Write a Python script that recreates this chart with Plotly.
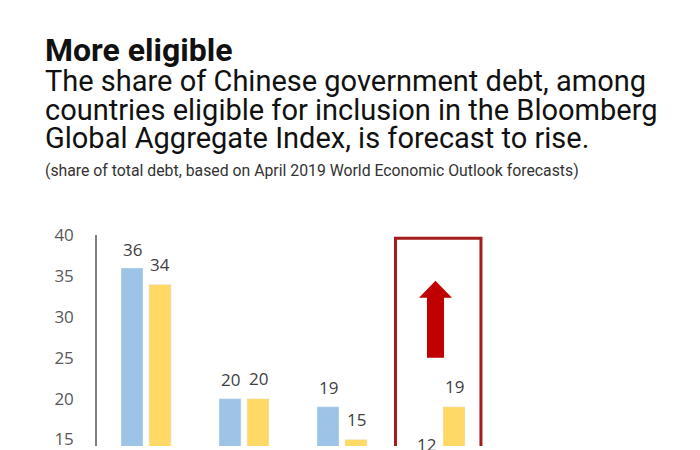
import plotly.graph_objects as go

categories = ["United States", "Japan", "Euro area", "China"]
share_2019 = [36, 20, 19, 12]
share_2024 = [34, 20, 15, 19]
tick_vals = [15, 20, 25, 30, 35, 40]

title = "More eligible"
subtitle_lines = [
    "The share of Chinese government debt, among",
    "countries eligible for inclusion in the Bloomberg",
    "Global Aggregate Index, is forecast to rise.",
]
note = "(share of total debt, based on April 2019 World Economic Outlook forecasts)"

BLUE = "#9DC3E6"
YELLOW = "#FFD966"
BW = 22 / 98
OFF = 8  # page body margin compensation
Y_RANGE = [14.2, 40.05]

fig = go.Figure()
fig.add_trace(go.Bar(x=categories, y=share_2019, marker_color=BLUE,
                     width=BW, offset=-25 / 98, name="2019", hoverinfo="x+y"))
fig.add_trace(go.Bar(x=categories, y=share_2024, marker_color=YELLOW,
                     width=BW, offset=3 / 98, name="2024", hoverinfo="x+y"))


def bar_label(cat, v, xshift, yshift):
    a = dict(x=cat, xref="x", text=str(v), showarrow=False,
             xshift=xshift, yshift=yshift, yanchor="middle",
             font=dict(family="Open Sans", size=17, color="#404040"))
    if v >= Y_RANGE[0]:
        a.update(y=v, yref="y")
    else:  # bar top lies below the visible window: place via the axis fraction
        a.update(y=(v - Y_RANGE[0]) / (Y_RANGE[1] - Y_RANGE[0]), yref="paper")
    return a


ann = []
for cat, v in zip(categories, share_2019):
    ann.append(bar_label(cat, v, -14, 19))
for cat, v in zip(categories, share_2024):
    ann.append(bar_label(cat, v, 14, 20))


def top_text(text, pcenter, size, bold=False, color="#111111"):
    return dict(x=0, y=1, xref="paper", yref="paper", xanchor="left", yanchor="middle",
                xshift=45 - 97 - 2, yshift=235 - pcenter, showarrow=False,
                text=f"<b>{text}</b>" if bold else text,
                font=dict(family="Roboto", size=size, color=color))


ann.append(top_text(title, 50, 32, bold=True))
for i, line in enumerate(subtitle_lines):
    ann.append(top_text(line, 81 + 28.5 * i, 29))
ann.append(top_text(note, 170, 15.8, color="#333333"))

shapes = [
    dict(type="rect", xref="x", yref="y", x0=2.546, x1=3.418, y0=0, y1=39.64,
         line=dict(color="#A51C1C", width=3), fillcolor="rgba(0,0,0,0)"),
    dict(type="path", xref="x", yref="y",
         path="M 2.867 25.0 L 2.867 32.37 L 2.786 32.37 L 2.954 34.45 "
              "L 3.122 32.37 L 3.041 32.37 L 3.041 25.0 Z",
         fillcolor="#C00000", line=dict(width=0)),
]

fig.update_layout(
    width=700, height=450,
    margin=dict(l=97 - OFF, r=700 - (489 - OFF), t=235 - OFF, b=OFF),
    paper_bgcolor="white", plot_bgcolor="white",
    showlegend=False, barmode="overlay",
    annotations=ann, shapes=shapes,
    xaxis=dict(range=[-0.5, 3.5], showticklabels=False, showgrid=False,
               zeroline=False, showline=False, ticks=""),
    yaxis=dict(range=Y_RANGE, tickvals=tick_vals, showgrid=False,
               zeroline=False, showline=True, linecolor="#808080", linewidth=1.5,
               ticks="", ticklabelstandoff=18,
               tickfont=dict(family="Open Sans", size=17, color="#595959")),
)

fig.write_html("out.html")
